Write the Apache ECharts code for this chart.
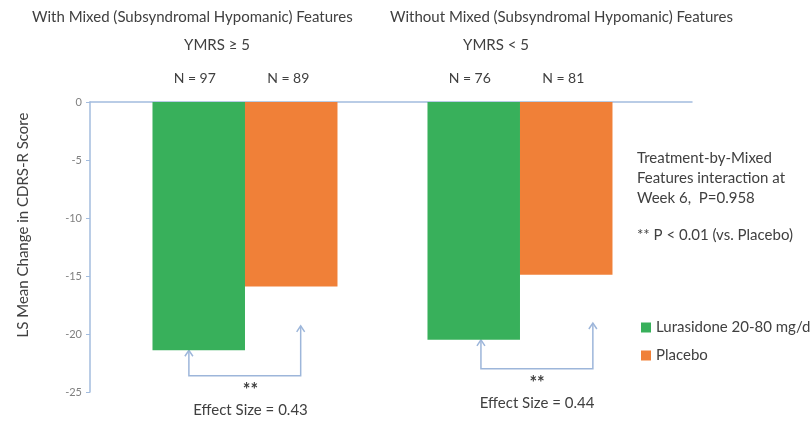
<!DOCTYPE html>
<html><head><meta charset="utf-8">
<script src="https://cdn.jsdelivr.net/npm/echarts@6/dist/echarts.min.js"></script>
<style>html,body{margin:0;padding:0;background:#fff}#c{width:810px;height:422px}</style>
</head><body><div id="c"></div>
<script>
const groups = ['With Mixed (Subsyndromal Hypomanic) Features', 'Without Mixed (Subsyndromal Hypomanic) Features'];
const subtitles = ['YMRS \u2265 5', 'YMRS < 5'];
const lurasidone = [-21.4, -20.5];
const placebo = [-15.9, -14.9];
const nLurasidone = [97, 76];
const nPlacebo = [89, 81];
const effectSizes = ['0.43', '0.44'];
const yAxisTitle = 'LS Mean Change in CDRS-R Score';
// bracket annotation (data units): left x offset, right x offset, right arrow tip value, bracket level, text x offset
const bracketLeft = [-0.204, -0.142];
const bracketRight = [0.2025, 0.265];
const bracketTip = [-19.3, -19.05];
const bracketLevel = [-23.6, -23.0];
const bracketText = [0.02, 0.062];

const FONT = 'Lato';
const TXT = '#404040';
const AX = '#A3BCDE';
const chart = echarts.init(document.getElementById('c'));
chart.setOption({
  animation: false,
  textStyle: {fontFamily: FONT},
  grid: {left: 90, right: 118, top: 102, bottom: 30, containLabel: false},
  xAxis: {type: 'value', min: -0.5636, max: 1.6255,
    axisLine: {show: true, onZero: true, lineStyle: {color: AX, width: 1.5}},
    axisTick: {show: false}, axisLabel: {show: false}, splitLine: {show: false}},
  yAxis: {type: 'value', min: -25, max: 0, interval: 5,
    axisLine: {show: true, onZero: false, lineStyle: {color: AX, width: 1.5}},
    axisTick: {show: true, length: 4, lineStyle: {color: AX}},
    axisLabel: {color: '#808080', fontSize: 11, margin: 8},
    splitLine: {show: false}},
  legend: {orient: 'vertical', left: 636, top: 315, itemWidth: 10, itemHeight: 10, itemGap: 13,
    icon: 'rect', textStyle: {color: TXT, fontSize: 15, fontFamily: FONT},
    data: ['Lurasidone 20-80 mg/day', 'Placebo']},
  series: [
    {name: 'Lurasidone 20-80 mg/day', type: 'bar', barWidth: 92.5, barGap: '0%',
     itemStyle: {color: '#38B05B'},
     data: lurasidone.map((v, i) => [i, v]),
     label: {show: true, position: 'top', distance: 17, color: TXT, fontSize: 14, fontFamily: FONT,
       offset: [-4, 0], formatter: p => 'N = ' + nLurasidone[p.dataIndex]}},
    {name: 'Placebo', type: 'bar', barWidth: 92.5, barGap: '0%',
     itemStyle: {color: '#F08038'},
     data: placebo.map((v, i) => [i, v]),
     label: {show: true, position: 'top', distance: 17, color: TXT, fontSize: 14, fontFamily: FONT,
       offset: [-3, 0], formatter: p => 'N = ' + nPlacebo[p.dataIndex]}}
  ]
});

const px = (x, y) => chart.convertToPixel({xAxisIndex: 0, yAxisIndex: 0}, [x, y]);
const elems = [];
const lineStyle = {stroke: '#9DB6DA', lineWidth: 1.5, fill: null};
function arrowHead(x, y) {
  elems.push({type: 'polyline', shape: {points: [[x - 4, y + 6], [x, y], [x + 4, y + 6]]}, style: lineStyle, silent: true});
}
groups.forEach((g, i) => {
  const lb = px(i + bracketLeft[i], lurasidone[i]);
  const rb = px(i + bracketRight[i], bracketTip[i]);
  const lvl = px(i, bracketLevel[i])[1];
  elems.push({type: 'polyline', shape: {points: [[lb[0], lb[1]], [lb[0], lvl], [rb[0], lvl], [rb[0], rb[1]]]}, style: lineStyle, silent: true});
  arrowHead(lb[0], lb[1]);
  arrowHead(rb[0], rb[1]);
  const tx = px(i + bracketText[i], 0)[0];
  elems.push({type: 'text', x: tx, y: lvl + 14, style: {text: '**', fill: TXT, font: 'bold 18px ' + FONT, textAlign: 'center', textVerticalAlign: 'middle'}});
  elems.push({type: 'text', x: tx, y: lvl + 34, style: {text: 'Effect Size = ' + effectSizes[i], fill: TXT, font: '15px ' + FONT, textAlign: 'center', textVerticalAlign: 'middle'}});
});
elems.push({type: 'text', x: 23, y: 225, rotation: Math.PI / 2, style: {text: yAxisTitle, fill: TXT, font: '15px ' + FONT, textAlign: 'center', textVerticalAlign: 'middle'}});
elems.push({type: 'text', x: 32, y: 17, style: {text: groups[0], fill: TXT, font: '15px ' + FONT, textVerticalAlign: 'middle'}});
elems.push({type: 'text', x: 390, y: 17, style: {text: groups[1], fill: TXT, font: '15px ' + FONT, textVerticalAlign: 'middle'}});
elems.push({type: 'text', x: 217, y: 45, style: {text: subtitles[0], fill: TXT, font: '15px ' + FONT, textAlign: 'center', textVerticalAlign: 'middle'}});
elems.push({type: 'text', x: 496, y: 45, style: {text: subtitles[1], fill: TXT, font: '15px ' + FONT, textAlign: 'center', textVerticalAlign: 'middle'}});
elems.push({type: 'text', x: 637, y: 148, style: {text: 'Treatment-by-Mixed\nFeatures interaction at\nWeek 6,  P=0.958', fill: TXT, font: '15px ' + FONT, lineHeight: 20, textVerticalAlign: 'top'}});
elems.push({type: 'text', x: 637, y: 228, style: {text: '** P < 0.01 (vs. Placebo)', fill: TXT, font: '15px ' + FONT, textVerticalAlign: 'top'}});
chart.setOption({graphic: {elements: elems}});
</script></body></html>
